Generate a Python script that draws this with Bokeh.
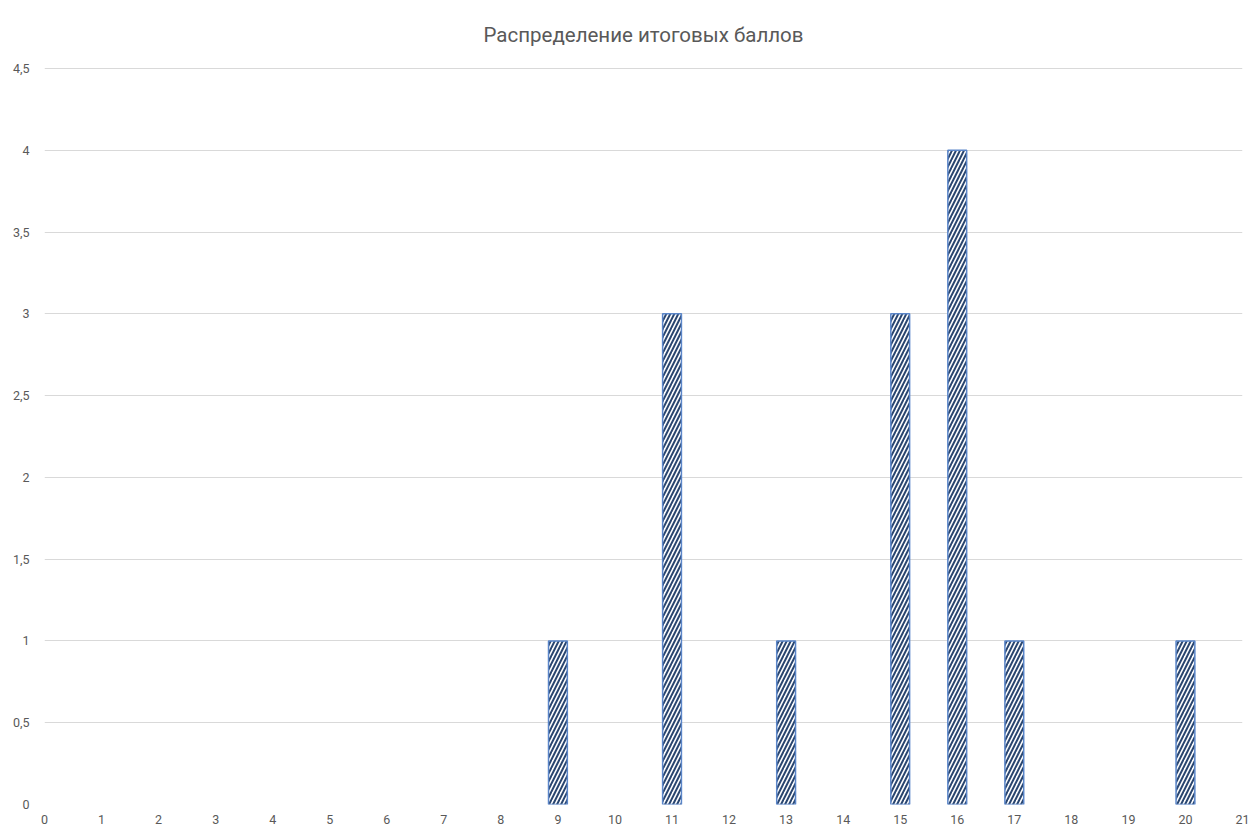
from bokeh.plotting import figure
from bokeh.models import FixedTicker, ColumnDataSource
from bokeh.embed import file_html
from bokeh.resources import INLINE

title_text = "Распределение итоговых баллов"
scores = [9, 11, 13, 15, 16, 17, 20]
counts = [1, 3, 1, 3, 4, 1, 1]
x_ticks = list(range(0, 22))
y_ticks = [0, 0.5, 1, 1.5, 2, 2.5, 3, 3.5, 4, 4.5]
y_labels = ["0", "0,5", "1", "1,5", "2", "2,5", "3", "3,5", "4", "4,5"]

FONT = "Roboto"
TXT = "#595959"

p = figure(width=1253, height=829, output_backend="svg", toolbar_location=None,
           x_range=(0, 21), y_range=(0, 4.506),
           min_border_left=44, min_border_right=11, min_border_bottom=25, min_border_top=66)

p.title.text = title_text
p.title.align = "center"
p.title.text_font = FONT
p.title.text_font_size = "20.5px"
p.title.text_font_style = "normal"
p.title.text_color = TXT
p.title.standoff = 41

src = ColumnDataSource(dict(x=scores, top=counts))
p.vbar(x="x", top="top", bottom=0, width=0.33, source=src,
       fill_color="white", line_color="#5B86C9", line_width=1.5,
       hatch_pattern="/", hatch_color="#2A4670", hatch_scale=8, hatch_weight=2.0)

p.xaxis.ticker = FixedTicker(ticks=x_ticks)
p.yaxis.ticker = FixedTicker(ticks=y_ticks)
p.yaxis.major_label_overrides = {t: l for t, l in zip(y_ticks, y_labels)}

for ax in (p.xaxis, p.yaxis):
    ax.axis_line_color = None
    ax.major_tick_line_color = None
    ax.minor_tick_line_color = None
    ax.major_label_text_font = FONT
    ax.major_label_text_font_size = "12.5px"
    ax.major_label_text_color = TXT
p.xaxis.major_label_standoff = 4
p.yaxis.major_label_standoff = 9

p.xgrid.grid_line_color = None
p.ygrid.grid_line_color = "#d9d9d9"
p.ygrid.grid_line_width = 1
p.outline_line_color = None

open("out.html", "w").write(file_html(p, INLINE))
